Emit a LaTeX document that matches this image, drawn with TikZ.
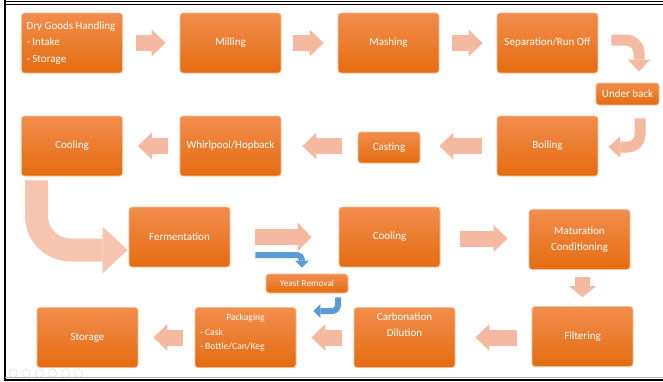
\documentclass[tikz,border=0pt]{standalone}
\usepackage{fontspec}
\setmainfont{Carlito}
\usetikzlibrary{arrows.meta}

\definecolor{boxtop}{HTML}{F28D4D}
\definecolor{boxbot}{HTML}{E46C0F}
\definecolor{boxline}{HTML}{F7BE95}
\definecolor{arrowc}{HTML}{F5B9A1}
\definecolor{bigarrowc}{HTML}{F7C5AF}
\definecolor{bluec}{HTML}{5B9BD5}

\tikzset{
  proc/.style={rectangle, rounded corners=3pt, draw=boxline, line width=0.8pt,
    top color=boxtop, bottom color=boxbot, text=white, align=center,
    minimum width=101pt, minimum height=60pt, inner sep=2pt,
    font=\fontsize{11}{16.5}\selectfont},
  barrow/.style={arrowc, line width=16pt, shorten <=13pt, shorten >=15pt,
    -{Triangle[length=14pt, width=27pt, line width=0pt]}},
  carrow/.style={arrowc, line width=11pt, rounded corners=13pt,
    -{Triangle[length=12pt, width=22pt, line width=0pt]}},
  bigarrow/.style={bigarrowc, line width=23pt, rounded corners=34pt,
    -{Triangle[length=25pt, width=47pt, line width=0pt]}},
  bluearrow/.style={bluec, line width=6pt, rounded corners=6pt,
    -{Triangle[length=7pt, width=14pt, line width=0pt]}},
}

\begin{document}
\begin{tikzpicture}[x=1pt, y=-1pt]
  \useasboundingbox (0,0) rectangle (663,381);

  % 枠
  \draw[line width=1.8pt] (4,1.5)--(663,1.5);
  \draw[line width=1.2pt] (4,4.5)--(663,4.5);
  \draw[line width=2.5pt] (5,0)--(5,381);
  \draw[gray!60, line width=0.8pt] (5,377.8)--(663,377.8);
  \draw[line width=1.5pt] (5,380)--(663,380);
  \foreach \i in {0,...,5}
    \draw[gray!25, line width=0.6pt] (13.3+13.1*\i, 373.3) circle[radius=4pt];

  % 工程
  \node[proc, text width=91pt, align=flush left, inner xsep=3pt] (dry) at (72,43) {Dry Goods Handling\\- Intake\\- Storage};
  \node[proc] (mill) at (230.5,43) {Milling};
  \node[proc] (mash) at (388.5,43) {Mashing};
  \node[proc] (sep) at (547.5,43) {Separation/Run Off};
  \node[proc, minimum width=63pt, minimum height=22pt] (under) at (627.5,94) {Under back};
  \node[proc] (boil) at (547.5,146) {Boiling};
  \node[proc, minimum width=62pt, minimum height=31pt] (cast) at (389,147.5) {Casting};
  \node[proc] (whirl) at (230.5,146) {Whirlpool/Hopback};
  \node[proc] (cool1) at (72,146) {Cooling};
  \node[proc] (ferm) at (179.5,237) {Fermentation};
  \node[proc] (cool2) at (389.5,237) {Cooling};
  \node[proc] (mat) at (579.5,239.5) {Maturation\\Conditioning};
  \node[proc, minimum width=82pt, minimum height=19pt, font=\fontsize{9.3}{11}\selectfont] (yeast) at (307,283.5) {Yeast Removal};
  \node[proc] (filt) at (582.5,336.5) {Filtering};
  \node[proc] (carb) at (404.5,337.5) {\parbox[c][50pt][t]{95pt}{\centering Carbonation\\Dilution}};
  \node[proc, font=\fontsize{9.6}{14.5}\selectfont] (pack) at (245.5,337.5) {\parbox[c][47pt][t]{91pt}{\centering Packaging\par\raggedright - Cask\\- Bottle/Can/Keg}};
  \node[proc] (store) at (87.5,337.5) {Storage};

  % 矢印
  \draw[barrow, shorten >=14pt] (dry) -- (mill);
  \draw[barrow, shorten <=12pt, shorten >=14pt] (mill) -- (mash);
  \draw[barrow, shorten >=14pt] (mash) -- (sep);
  \draw[carrow] ([xshift=13pt,yshift=3pt]sep.east) -| ([xshift=11.5pt,yshift=11pt]under.north);
  \draw[carrow, rounded corners=12pt] ([xshift=12.5pt,yshift=-13pt]under.south) |- ([xshift=10pt,yshift=-1pt]boil.east);
  \draw[barrow, shorten <=15pt, shorten >=19pt] (boil.west) -- (boil.west -| cast.east);
  \draw[barrow, shorten <=16pt, shorten >=21pt] (cast.west |- whirl) -- (whirl.east);
  \draw[barrow, shorten <=12pt] (whirl) -- (cool1);
  \draw[bigarrow] ([xshift=-35.5pt,yshift=-4pt]cool1.south) |- ([xshift=-1pt,yshift=-13pt]ferm.west);

  \draw[barrow, shorten <=25pt, shorten >=27pt, -{Triangle[length=14pt, width=29pt, line width=0pt]}] (ferm) -- (cool2);
  \draw[bluearrow, rounded corners=5pt] ([xshift=25pt,yshift=-18pt]ferm.east) -| ([xshift=-5pt,yshift=6pt]yeast.north);
  \draw[bluearrow] ([xshift=31pt,yshift=-4pt]yeast.south) |- ([xshift=17pt,yshift=26.5pt]pack.east);
  \draw[barrow, shorten <=20pt, shorten >=21pt] ([yshift=-1.5pt]cool2.east) -- ([yshift=-1.5pt]cool2.east -| mat.west);
  \draw[barrow, line width=15pt, shorten <=7pt, shorten >=9pt, -{Triangle[length=11pt, width=27pt, line width=0pt]}] (mat.south -| filt) -- (filt.north);
  \draw[barrow, shorten <=15pt, shorten >=20pt] (filt.west |- carb) -- (carb.east);
  \draw[barrow, shorten <=12pt] (carb) -- (pack);
  \draw[barrow, shorten <=12pt] (pack) -- (store);
\end{tikzpicture}
\end{document}
